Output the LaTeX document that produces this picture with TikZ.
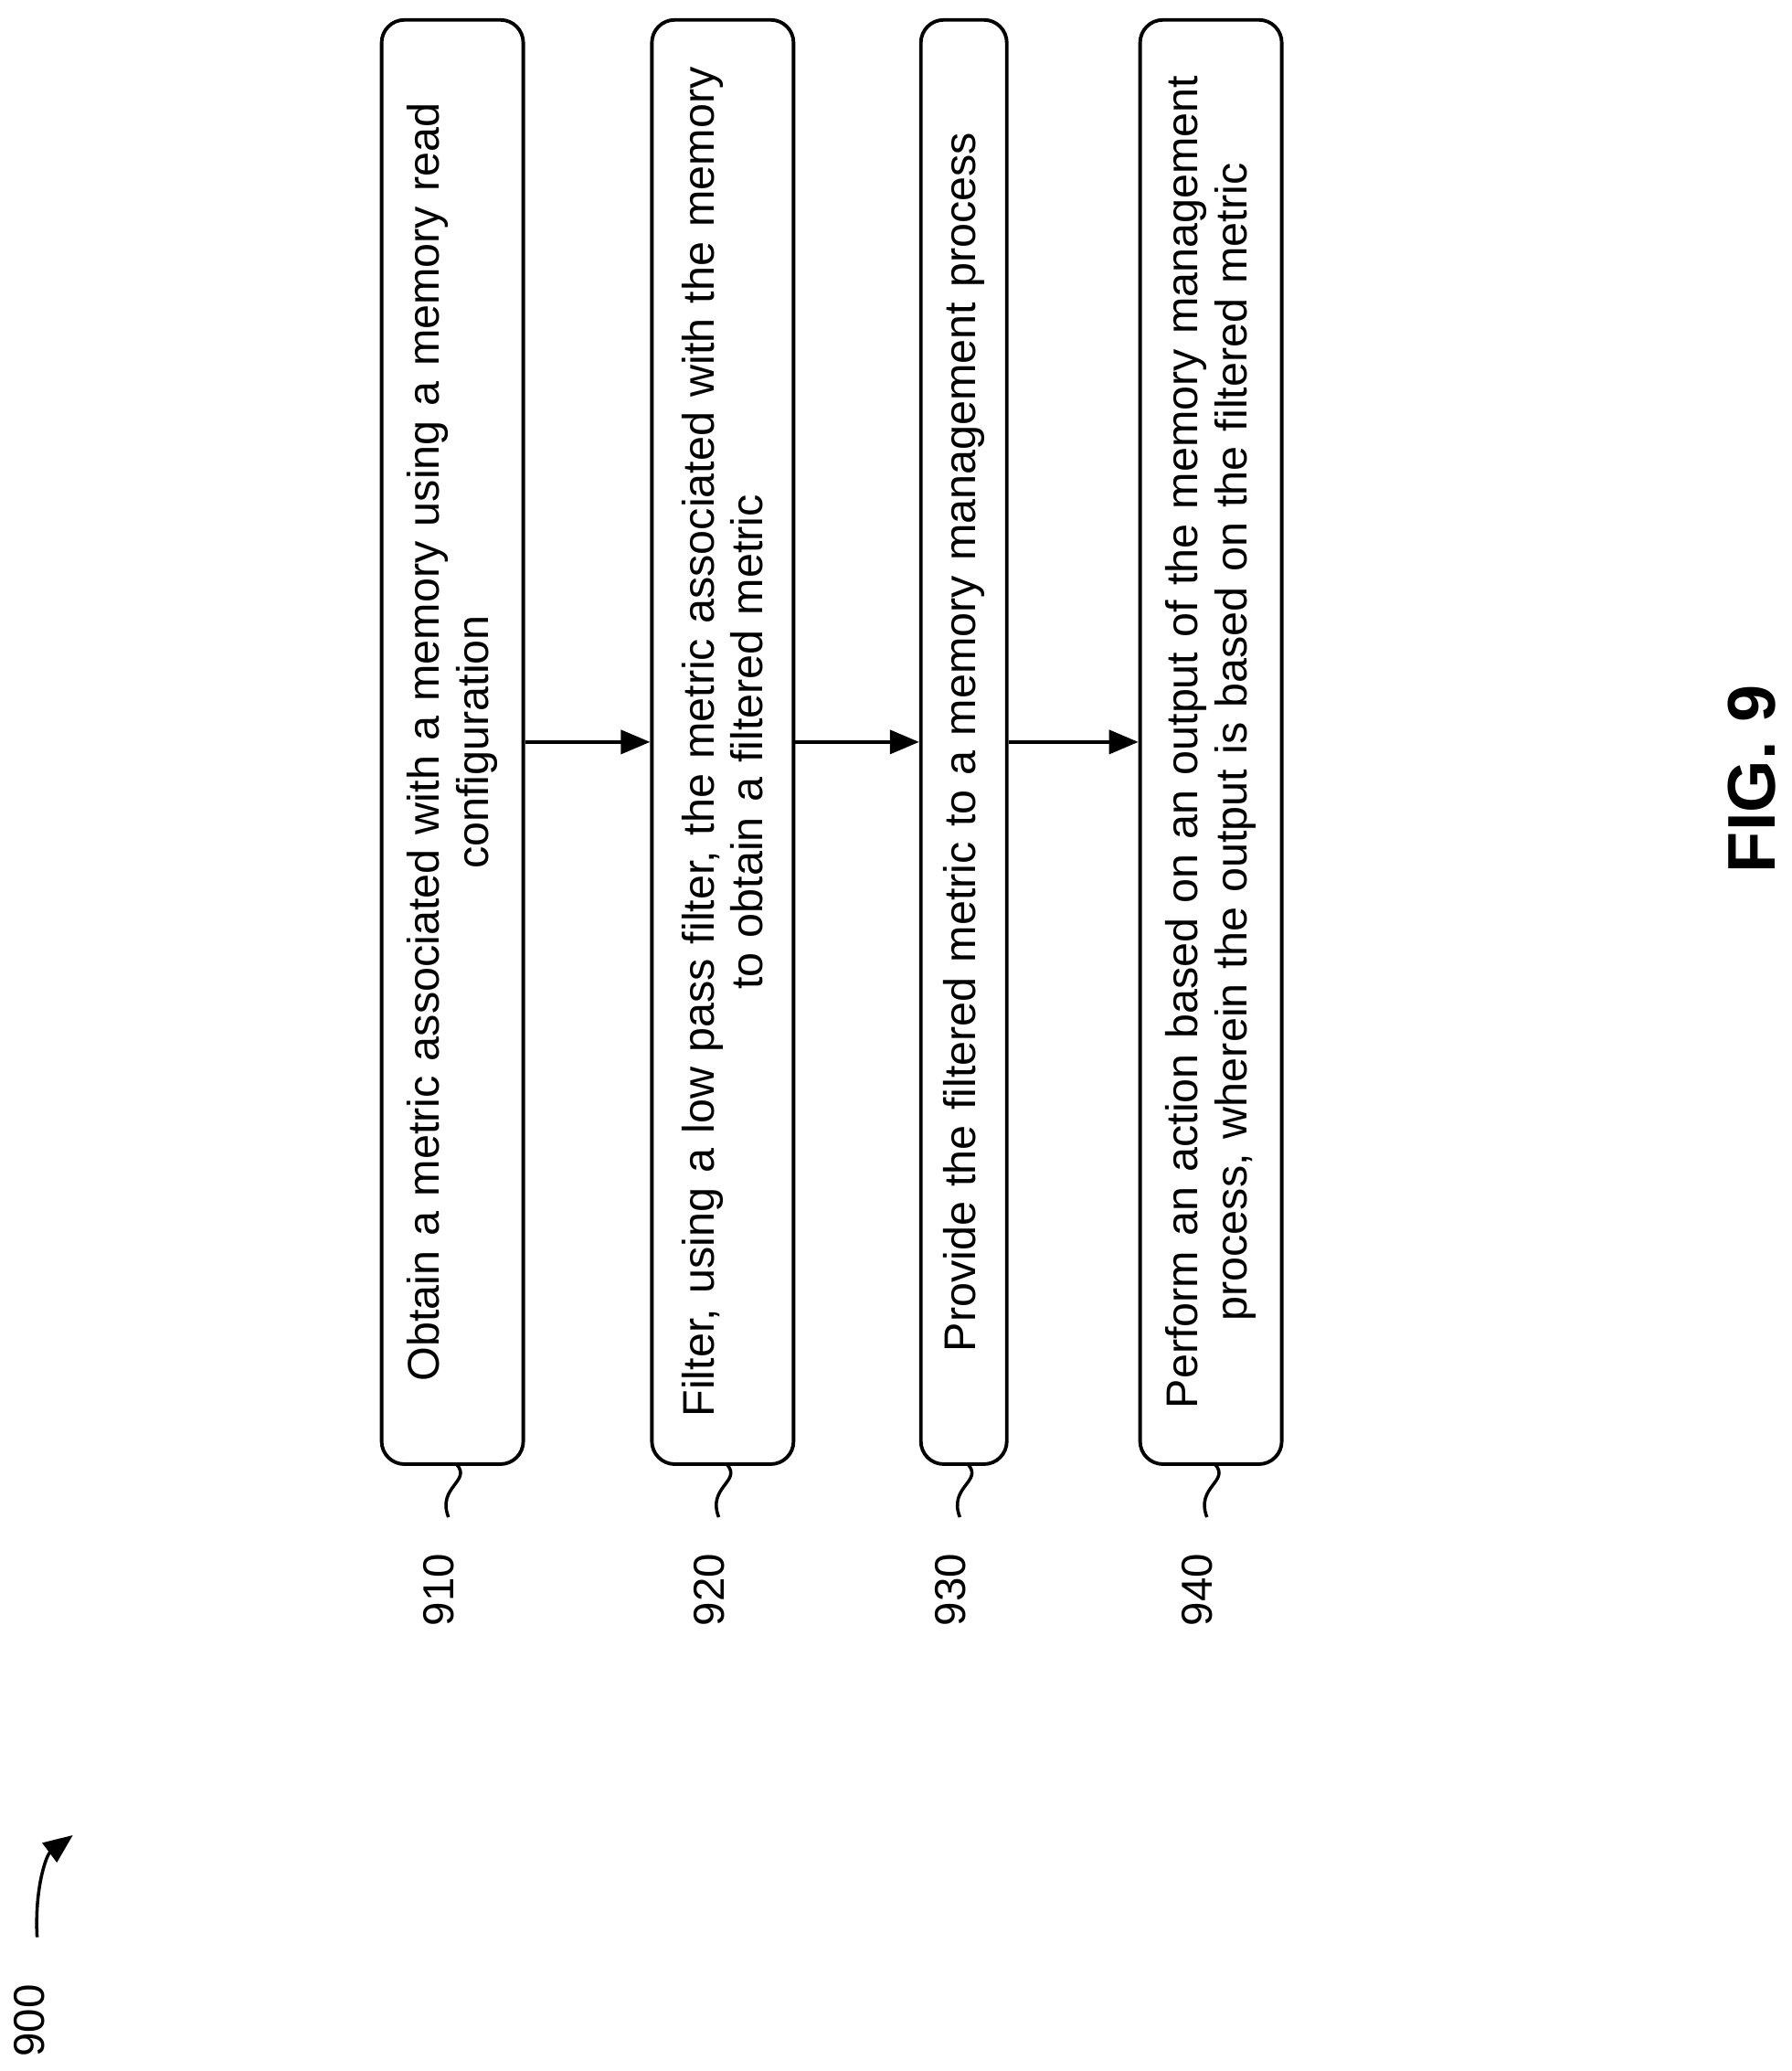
\documentclass[tikz,border=0pt]{standalone}
\usepackage{fontspec}
\setmainfont{Liberation Sans}
\usetikzlibrary{arrows.meta, positioning}

\begin{document}
\begin{tikzpicture}[
    x=0.0145cm, y=-0.0145cm,
    >={Triangle[length=3.2mm, width=2.6mm]},
    stepbox/.style={rectangle, draw, rounded corners=2.5mm, rotate=90, line width=1.1pt, minimum width=15.8cm, align=center, text width=15.4cm, font=\fontsize{13.8}{15.2}\selectfont},
    flow/.style={->, line width=1.1pt},
    reflabel/.style={rotate=90, font=\fontsize{13.5}{15}\selectfont},
    squiggle/.style={line width=1pt}
]
\useasboundingbox (0,0) rectangle (1352,1563);

% ========== STEPS ==========
\node[stepbox, minimum height=1.55cm] (s910) at (341.5,560) {Obtain a metric associated with a memory using a memory read\\configuration};
\node[stepbox, minimum height=1.55cm] (s920) at (545.5,560) {Filter, using a low pass filter, the metric associated with the memory\\to obtain a filtered metric};
\node[stepbox, minimum height=0.94cm] (s930) at (727.5,560) {Provide the filtered metric to a memory management process};
\node[stepbox, minimum height=1.55cm] (s940) at (914,560) {Perform an action based on an output of the memory management\\process, wherein the output is based on the filtered metric};

% ========== ARROWS ==========
\draw[flow] (s910.south) -- (s920.north);
\draw[flow] (s920.south) -- (s930.north);
\draw[flow] (s930.south) -- (s940.north);

% ========== REFERENCE LABELS ==========
\foreach \n/\x in {910/341.5, 920/545.5, 930/727.5, 940/914} {
    \node[reflabel] (l\n) at (\x-10,1200) {\n};
    \coordinate (t\n) at (\x+3,1105);
    \draw[squiggle] (t\n) .. controls (\x+15,1118) and (\x-12,1122) .. (\x-3,1145);
}

% ========== FIGURE LABELS ==========
\node[rotate=90, font=\fontsize{21}{24}\selectfont\bfseries] (fig) at (1322,588) {FIG. 9};
\node[reflabel] (n900) at (22,1525) {900};
\coordinate (a900) at (28,1462);
\draw[->, line width=1pt] (a900) .. controls (26,1425) and (35,1400) .. (55,1385);

\end{tikzpicture}
\end{document}
